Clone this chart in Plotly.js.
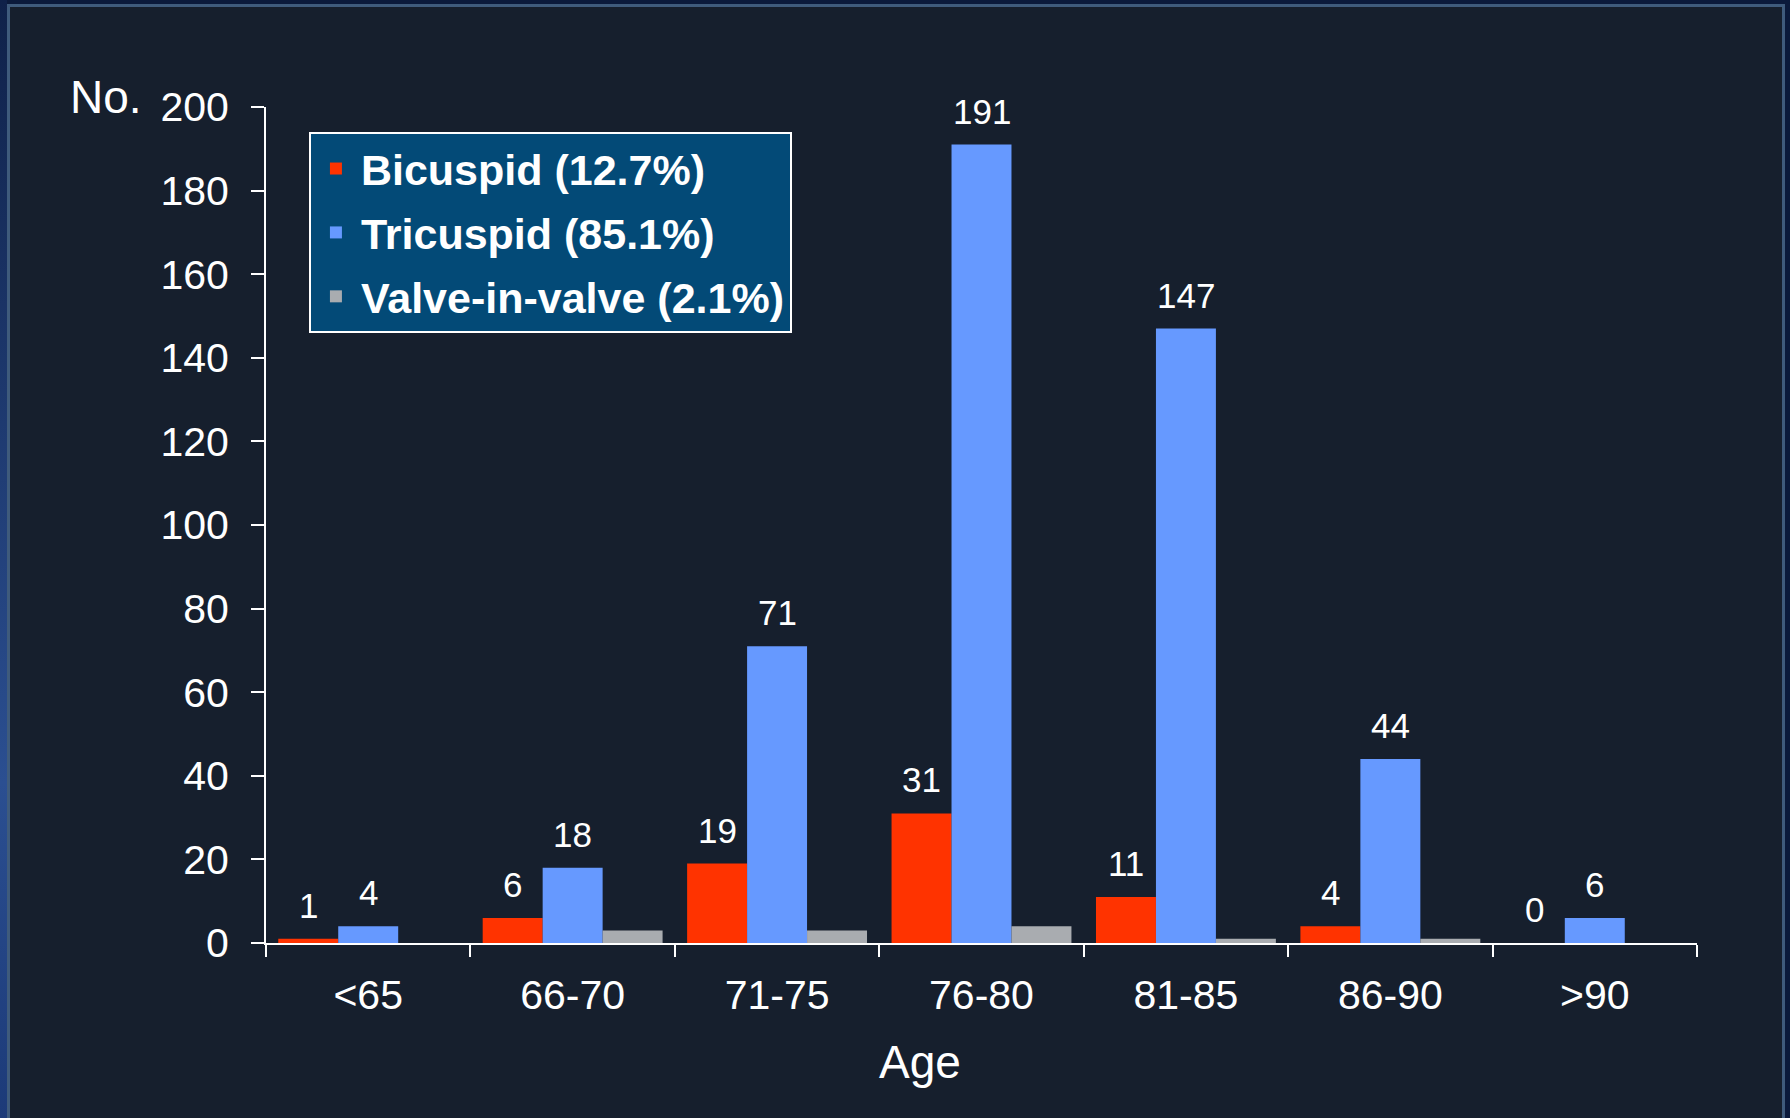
<!DOCTYPE html>
<html>
<head>
<meta charset="utf-8">
<script src="https://cdn.plot.ly/plotly-3.0.1.min.js"></script>
<style>
  html, body { margin: 0; padding: 0; width: 1790px; height: 1118px; overflow: hidden; background: #0b1a3b; }
  #strip { position: absolute; left: 0; top: 0; width: 7px; height: 1118px;
           background: linear-gradient(#0f2149, #2b4f91 70%, #1c3a78); }
  #frame { position: absolute; left: 7px; top: 4px; width: 1772px; height: 1114px;
           border: 3px solid #3f5b7c; border-bottom: none; background: #161f2d; }
  #chart { position: absolute; left: 0; top: 0; width: 1790px; height: 1118px; }
</style>
</head>
<body>
<div id="strip"></div>
<div id="frame"></div>
<div id="chart"></div>
<script>
// Age groups and number of patients per valve morphology
const ageGroups   = ['<65', '66-70', '71-75', '76-80', '81-85', '86-90', '>90'];
const bicuspid    = [1, 6, 19, 31, 11, 4, 0];
const tricuspid   = [4, 18, 71, 191, 147, 44, 6];
const valveInValve = [0, 3, 3, 4, 1, 1, 0];

const seriesNames  = ['Bicuspid (12.7%)', 'Tricuspid (85.1%)', 'Valve-in-valve (2.1%)'];
const seriesColors = ['#ff3300', '#6699ff', '#a9acb0'];
const yTicks = [0, 20, 40, 60, 80, 100, 120, 140, 160, 180, 200];

const BARGAP = 0.12;
const allSeries = [bicuspid, tricuspid, valveInValve];
const labelled  = [true, true, false];

const traces = allSeries.map((vals, i) => ({
  type: 'bar',
  name: seriesNames[i],
  x: ageGroups,
  y: vals,
  marker: { color: seriesColors[i], line: { width: 0 } },
  legendgroup: 'g' + i,
  hoverinfo: 'x+y+name'
}));

// value labels above the bicuspid and tricuspid bars
const slot = (1 - BARGAP) / allSeries.length;
const annotations = [];
allSeries.forEach((vals, s) => {
  if (!labelled[s]) return;
  vals.forEach((v, i) => {
    annotations.push({
      xref: 'x', yref: 'y',
      x: i + (s - (allSeries.length - 1) / 2) * slot,
      y: v,
      text: String(v),
      showarrow: false,
      xanchor: 'center', yanchor: 'bottom',
      yshift: 12,
      font: { family: 'Liberation Sans, Arial, sans-serif', size: 35, color: '#ffffff' }
    });
  });
});

annotations.push({
  xref: 'paper', yref: 'paper', x: -0.1385, y: 1.012,
  xanchor: 'left', yanchor: 'middle', showarrow: false,
  text: 'No.',
  font: { family: 'Liberation Sans, Arial, sans-serif', size: 46, color: '#ffffff' }
});
annotations.push({
  xref: 'paper', yref: 'paper', x: 0.457, y: -0.142,
  xanchor: 'center', yanchor: 'middle', showarrow: false,
  text: 'Age',
  font: { family: 'Liberation Sans, Arial, sans-serif', size: 46, color: '#ffffff' }
});

const layout = {
  width: 1790, height: 1118,
  paper_bgcolor: 'rgba(0,0,0,0)',
  plot_bgcolor: 'rgba(0,0,0,0)',
  margin: { l: 266, r: 93, t: 107, b: 175, pad: 0 },
  barmode: 'group',
  bargap: BARGAP,
  bargroupgap: 0,
  font: { family: 'Liberation Sans, Arial, sans-serif', color: '#ffffff' },
  showlegend: true,
  legend: {
    x: 0.030, y: 0.970, xanchor: 'left', yanchor: 'top',
    bgcolor: '#034a77', bordercolor: '#ffffff', borderwidth: 2,
    font: { family: 'Liberation Sans, Arial, sans-serif', size: 43, color: '#ffffff', weight: 'bold' },
    tracegroupgap: 5,
    itemwidth: 40,
    traceorder: 'grouped'
  },
  xaxis: {
    type: 'category',
    showgrid: false, zeroline: false,
    showline: true, linecolor: '#ffffff', linewidth: 2,
    ticks: 'outside', tickson: 'boundaries', ticklen: 12, tickwidth: 2, tickcolor: '#ffffff',
    tickfont: { family: 'Liberation Sans, Arial, sans-serif', size: 41, color: '#ffffff' },
    ticklabelstandoff: 15
  },
  yaxis: {
    range: [0, 200],
    tickvals: yTicks,
    ticktext: yTicks.map(String),
    showgrid: false, zeroline: false,
    showline: true, linecolor: '#ffffff', linewidth: 2,
    ticks: 'outside', ticklen: 13, tickwidth: 2, tickcolor: '#ffffff',
    tickfont: { family: 'Liberation Sans, Arial, sans-serif', size: 41, color: '#ffffff' },
    ticklabelstandoff: 14
  },
  annotations: annotations
};

Plotly.newPlot('chart', traces, layout, { displayModeBar: false, staticPlot: true });
</script>
</body>
</html>
